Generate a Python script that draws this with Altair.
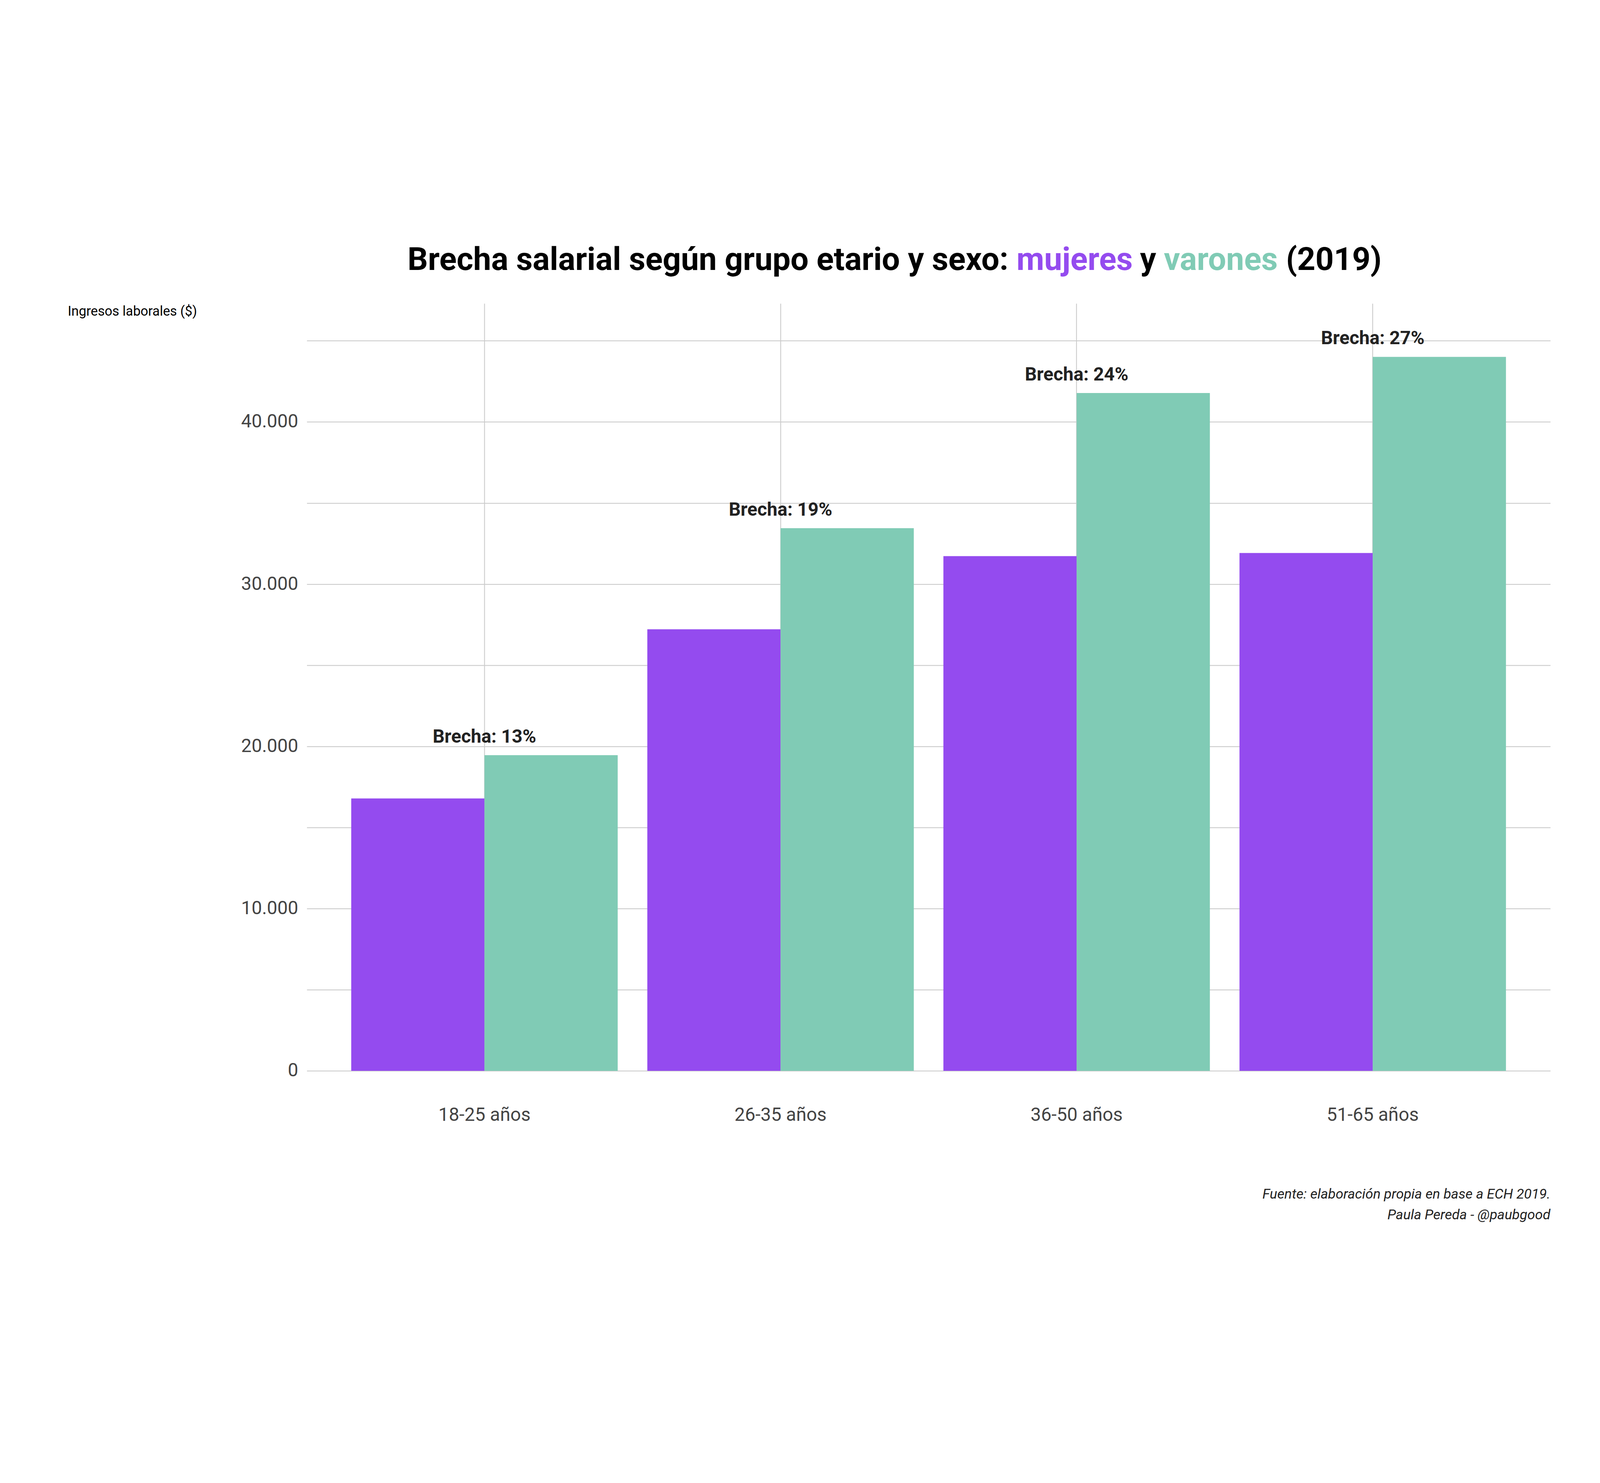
import altair as alt
import pandas as pd

grupos = ["18-25 años", "26-35 años", "36-50 años", "51-65 años"]
mujeres = [16790, 27220, 31730, 31920]
varones = [19460, 33450, 41780, 44010]
brechas = ["Brecha: 13%", "Brecha: 19%", "Brecha: 24%", "Brecha: 27%"]

FONT = "Roboto"
PURPLE = "#944BEF"
GREEN = "#80CBB5"
W, H = 4279, 2640

df = pd.DataFrame({
    "grupo": grupos * 2,
    "sexo": ["mujeres"] * 4 + ["varones"] * 4,
    "ingreso": mujeres + varones,
})
lab = pd.DataFrame({"grupo": grupos, "ingreso": varones, "brecha": brechas})

xscale = alt.Scale(domain=grupos, paddingInner=0.1, paddingOuter=0.15)
yscale = alt.Scale(domain=[0, 47300], nice=False)

bars = alt.Chart(df).mark_bar().encode(
    x=alt.X("grupo:N", scale=xscale, title=None,
            axis=alt.Axis(grid=True, bandPosition=0.5, labelAngle=0, ticks=False,
                          domain=False, labelFontSize=64, labelPadding=120, labelLimit=0,
                          labelColor="#444444", gridColor="#cccccc", gridWidth=3)),
    xOffset=alt.XOffset("sexo:N", sort=["mujeres", "varones"]),
    y=alt.Y("ingreso:Q", scale=yscale, title="Ingresos laborales ($)",
            axis=alt.Axis(values=list(range(0, 45001, 5000)), ticks=False, domain=False,
                          labelExpr="datum.value % 10000 == 0 ? replace(format(datum.value, ','), ',', '.') : ''",
                          labelFontSize=64, labelPadding=30, labelColor="#444444", labelLimit=0,
                          gridColor="#cccccc", gridWidth=3,
                          titleAngle=0, titleX=-823, titleY=28, titleAlign="left",
                          titleBaseline="middle", titleFontSize=46, titleFontWeight="normal")),
    color=alt.Color("sexo:N", scale=alt.Scale(domain=["mujeres", "varones"],
                                              range=[PURPLE, GREEN]), legend=None),
)

texts = alt.Chart(lab).mark_text(font=FONT, fontSize=64, fontWeight="bold",
                                 color="#222222", dy=-30, baseline="bottom").encode(
    x=alt.X("grupo:N", scale=xscale, bandPosition=0.5),
    y=alt.Y("ingreso:Q", scale=yscale),
    text="brecha:N",
)

title_parts = [
    ("Brecha salarial según grupo etario y sexo:", "black", 2414, "right"),
    ("mujeres", PURPLE, 2442, "left"),
    ("y", "black", 2867, "left"),
    ("varones", GREEN, 2949, "left"),
    ("(2019)", "black", 3369, "left"),
]
title_layers = [
    alt.Chart(pd.DataFrame({"t": [t]})).mark_text(
        font=FONT, fontSize=110, fontWeight="bold", color=c, align=a,
        baseline="alphabetic").encode(x=alt.value(xp), y=alt.value(-115), text="t:N")
    for t, c, xp, a in title_parts
]

caption = ["Fuente: elaboración propia en base a ECH 2019.", "Paula Pereda - @paubgood"]
cap_layers = [
    alt.Chart(pd.DataFrame({"t": [t]})).mark_text(
        font=FONT, fontSize=48, fontStyle="italic", color="#222222", align="right",
        baseline="middle").encode(x=alt.value(W), y=alt.value(H + yp), text="t:N")
    for t, yp in zip(caption, [426, 497])
]

chart = alt.layer(bars, texts, *title_layers, *cap_layers).properties(
    width=W, height=H,
    padding={"left": 222, "top": 200, "right": 160, "bottom": 100},
    background="white",
).configure_view(strokeWidth=0).configure_axis(labelFont=FONT, titleFont=FONT)

chart.save("out.html", embed_options={"renderer": "svg", "actions": False})
